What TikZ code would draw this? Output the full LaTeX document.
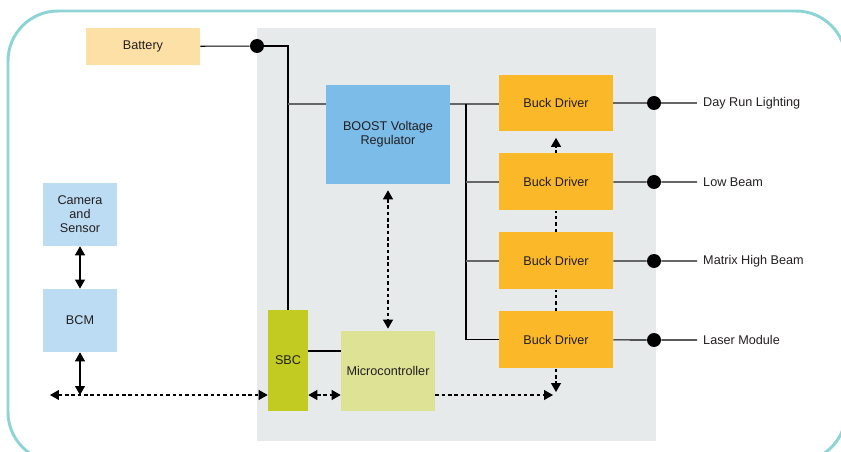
\documentclass[tikz,border=0pt]{standalone}
\usepackage{fontspec}
\setmainfont{Liberation Sans}
\usepackage{tikz}
\usetikzlibrary{positioning, arrows.meta, calc}
\definecolor{rimteal}{HTML}{8ED4D4}
\definecolor{panelgrey}{HTML}{E6EAEB}
\definecolor{batteryfill}{HTML}{FDE0A6}
\definecolor{boostblue}{HTML}{7BBCE8}
\definecolor{buckorange}{HTML}{FBB828}
\definecolor{mcugreen}{HTML}{DDE295}
\definecolor{sbcgreen}{HTML}{C2CB21}
\definecolor{camblue}{HTML}{BCDCF4}
\definecolor{inktext}{HTML}{231F20}
\tikzstyle{block} = [rectangle, inner sep=2pt, align=center, text=inktext]
\tikzstyle{buck} = [block, fill=buckorange, minimum width=2.28cm, minimum height=1.14cm]
\tikzstyle{junction} = [circle, fill=black, inner sep=0pt, minimum size=0.28cm]
\tikzstyle{wire} = [line width=0.6pt, black]
\tikzstyle{gwire} = [line width=1pt, black!60]
\tikzstyle{dsh} = [line width=0.6pt, dash pattern=on 2pt off 1.6pt]

\begin{document}
\begin{tikzpicture}[x=0.02cm, y=-0.02cm, >={Triangle[length=0.18cm,width=0.2cm]}, node distance=1.58cm, font=\fontsize{7.2}{8}\selectfont]
        \useasboundingbox (0,0) rectangle (841,452);
        \clip (0,0) rectangle (841,452);

        % Frame and module area
        \draw[rimteal, line width=1.7pt, rounded corners=1cm] (8,11) rectangle (846,462);
        \fill[panelgrey] (257,28) rectangle (656,441);

        % Battery
        \node[block, fill=batteryfill, minimum width=2.28cm, minimum height=0.74cm] (bat) at (143,46.5) {Battery};
        \node[junction] (jbat) at (257,46) {};

        % BOOST regulator
        \node[block, fill=boostblue, minimum width=2.48cm, minimum height=1.98cm] (boost) at (388,134.5) {BOOST Voltage\\Regulator};

        % Buck drivers
        \node[buck] (buck1) at (556,103) {Buck Driver};
        \node[buck, below of=buck1] (buck2) {Buck Driver};
        \node[buck, below of=buck2] (buck3) {Buck Driver};
        \node[buck, below of=buck3] (buck4) {Buck Driver};

        % Outputs
        \node[junction] (j1) at (654,103) {};
        \node[junction] (j2) at (654,182) {};
        \node[junction] (j3) at (654,261) {};
        \node[junction] (j4) at (654,340) {};
        \node[anchor=west, text=inktext] (out1) at (697,103) {Day Run Lighting};
        \node[anchor=west, text=inktext] (out2) at (697,182) {Low Beam};
        \node[anchor=west, text=inktext] (out3) at (697,261) {Matrix High Beam};
        \node[anchor=west, text=inktext] (out4) at (697,340) {Laser Module};

        % Microcontroller and SBC
        \node[block, fill=mcugreen, minimum width=1.88cm, minimum height=1.6cm] (mcu) at (388,371) {Microcontroller};
        \node[block, fill=sbcgreen, minimum width=0.8cm, minimum height=2.02cm] (sbc) at (288,360.5) {SBC};

        % Camera and BCM
        \node[block, fill=camblue, minimum width=1.48cm, minimum height=1.26cm] (cam) at (80,214.5) {Camera\\and\\Sensor};
        \node[block, fill=camblue, minimum width=1.48cm, minimum height=1.26cm, below of=cam, node distance=2.12cm] (bcm) {BCM};

        \coordinate (bus) at (466,104);
        \coordinate (link) at (556,395);
        \coordinate (lbus) at (50,395);

        % Supply lines
        \draw[wire] (bat) -- (jbat);
        \draw[wire] (jbat) -| (sbc.north);
        \draw[gwire] (sbc.north |- bus) -- (boost.west |- bus);
        \draw[gwire] (boost.east |- bus) -- (buck1.west |- bus);
        \draw[wire] (bus) |- (buck4.west);
        \draw[gwire] (bus |- buck2) -- (buck2.west);
        \draw[gwire] (bus |- buck3) -- (buck3.west);

        % Output lines
        \draw[gwire] (buck1.east) -- (j1) -- (out1.west);
        \draw[gwire] (buck2.east) -- (j2) -- (out2.west);
        \draw[gwire] (buck3.east) -- (j3) -- (out3.west);
        \draw[wire] (buck4.east) -- (j4) -- (out4.west);

        % Control links
        \draw[dsh] (buck4.north) -- (buck3.south);
        \draw[dsh] (buck3.north) -- (buck2.south);
        \draw[dsh, ->, shorten >=0.12cm] (buck2.north) -- (buck1.south);
        \draw[dsh, ->, shorten >=0.06cm] (buck4.south) -- (link);
        \draw[dsh, ->, shorten >=0.06cm] (mcu.east |- link) -- (link);
        \draw[dsh, <->, shorten <=0.12cm, shorten >=0.04cm] (boost.south) -- (mcu.north);
        \draw[wire] ($(mcu.west)+(0,-20)$) coordinate (ctl) -- (sbc.east |- ctl);
        \draw[dsh, <->] (sbc.east |- link) -- (mcu.west |- link);
        \draw[dsh, <->] (lbus) -- (sbc.west |- lbus);
        \draw[wire, <->] (cam.south) -- (bcm.north);
        \draw[wire, <->] (bcm.south) -- (bcm.south |- lbus);

    \end{tikzpicture}
\end{document}
